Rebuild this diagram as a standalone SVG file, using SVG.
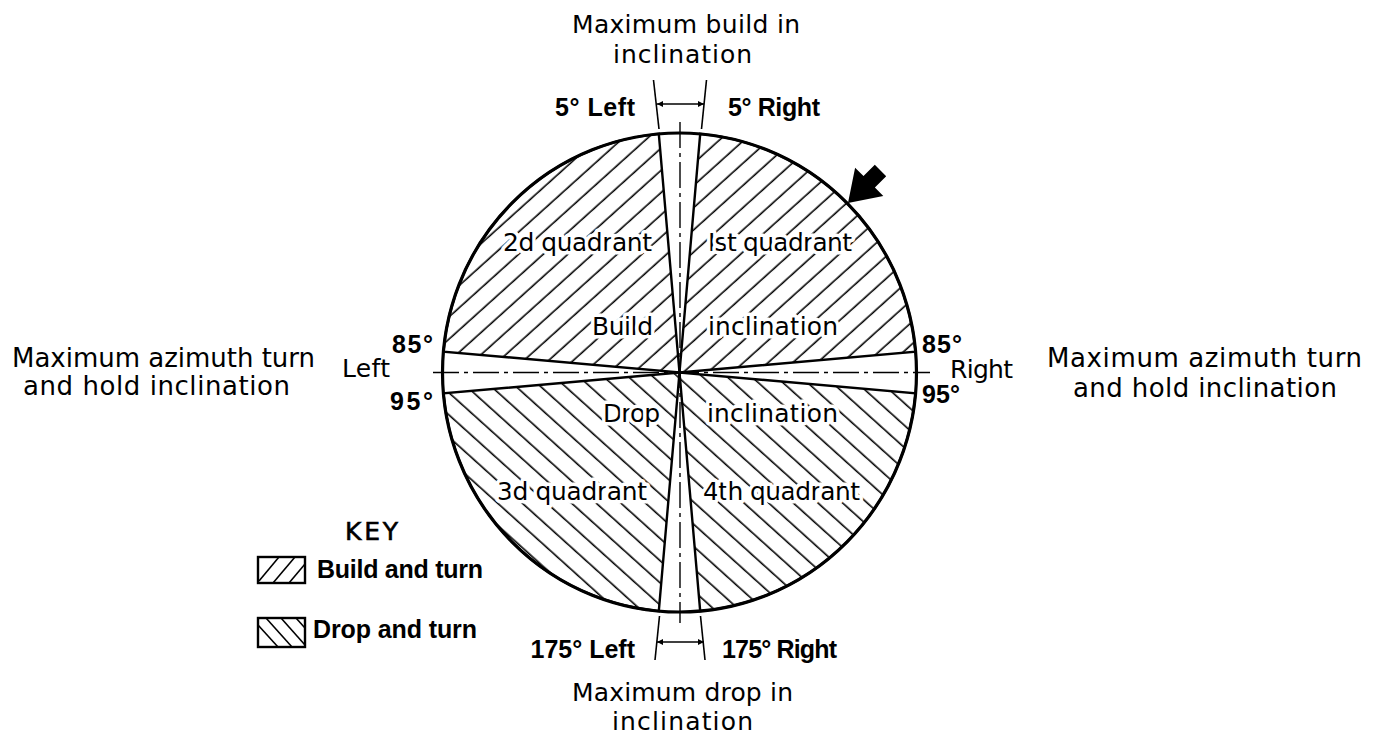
<svg xmlns="http://www.w3.org/2000/svg" width="1377" height="734" viewBox="0 0 1377 734">
<style>
.t{font-family:"DejaVu Sans","Liberation Sans",sans-serif;font-size:25px;fill:#000}
.b{font-family:"Liberation Sans",Arial,sans-serif;font-weight:bold;font-size:25px;fill:#000}
.k{paint-order:stroke;stroke:#fff;stroke-width:7px;stroke-linejoin:round}
.edge{stroke:#000;stroke-width:2.4;stroke-linejoin:miter}
.chain{stroke:#000;stroke-width:1.4;fill:none;stroke-dasharray:26 5 4 5}
.thin{stroke:#000;stroke-width:1.6;fill:none}
</style>
<defs>
<pattern id="hb" width="16.5" height="16.5" patternUnits="userSpaceOnUse" patternTransform="rotate(-42)">
<line x1="0" y1="8" x2="16.5" y2="8" stroke="#000" stroke-width="1.6"/>
</pattern>
<pattern id="hd" width="16.5" height="16.5" patternUnits="userSpaceOnUse" patternTransform="rotate(42)">
<line x1="0" y1="8" x2="16.5" y2="8" stroke="#000" stroke-width="1.6"/>
</pattern>
<marker id="ar" viewBox="0 0 10 10" refX="10" refY="5" markerWidth="8" markerHeight="6" markerUnits="userSpaceOnUse" orient="auto-start-reverse">
<path d="M0,0 L10,5 L0,10 Z" fill="#000"/>
</marker>
</defs>
<rect width="1377" height="734" fill="#fff"/>

<g id="circle">
<path id="q1" class="edge" fill="url(#hb)" d="M679.5,372.5 L915.6,351.6 A237,239.5 0 0 0 700.2,133.9 Z"/>
<path id="q2" class="edge" fill="url(#hb)" d="M679.5,372.5 L658.8,133.9 A237,239.5 0 0 0 443.4,351.6 Z"/>
<path id="q3" class="edge" fill="url(#hd)" d="M679.5,372.5 L443.4,393.4 A237,239.5 0 0 0 658.8,611.1 Z"/>
<path id="q4" class="edge" fill="url(#hd)" d="M679.5,372.5 L700.2,611.1 A237,239.5 0 0 0 915.6,393.4 Z"/>
<ellipse cx="679.5" cy="372.5" rx="237" ry="239.5" fill="none" stroke="#000" stroke-width="3.2"/>
</g>

<g id="connectors">
<line class="chain" x1="680" y1="122" x2="680" y2="623"/>
<line class="chain" x1="433" y1="372.5" x2="930" y2="372.5"/>
<line class="thin" x1="653.5" y1="80" x2="659" y2="129"/>
<line class="thin" x1="706.5" y1="80" x2="701.5" y2="129"/>
<line class="thin" x1="657" y1="104" x2="704" y2="104" marker-start="url(#ar)" marker-end="url(#ar)"/>
<line class="thin" x1="659.5" y1="616" x2="655" y2="660"/>
<line class="thin" x1="700.5" y1="616" x2="705" y2="660"/>
<line class="thin" x1="657" y1="642" x2="704" y2="642" marker-start="url(#ar)" marker-end="url(#ar)"/>
<polygon id="pointer" fill="#000" points="848,203 855.1,167.7 863.5,176.1 874.8,164.8 886.2,176.2 874.9,187.5 883.3,195.9"/>
</g>

<g id="labels-top">
<text class="t" x="572" y="33" textLength="228" lengthAdjust="spacing">Maximum build in</text>
<text class="t" x="613" y="63" textLength="139" lengthAdjust="spacing">inclination</text>
<text class="b" x="555" y="116" textLength="80" lengthAdjust="spacing">5° Left</text>
<text class="b" x="728" y="116" textLength="92" lengthAdjust="spacing">5° Right</text>
</g>

<g id="labels-left">
<text class="t" x="12" y="367" style="font-size:26px" textLength="303" lengthAdjust="spacing">Maximum azimuth turn</text>
<text class="t" x="23" y="395" style="font-size:26px" textLength="267" lengthAdjust="spacing">and hold inclination</text>
<text class="t" x="342" y="377" textLength="48" lengthAdjust="spacing">Left</text>
<text class="b" x="392" y="353" textLength="41" lengthAdjust="spacing">85°</text>
<text class="b" x="390" y="410" textLength="43" lengthAdjust="spacing">95°</text>
</g>

<g id="labels-right">
<text class="b" x="922" y="353" textLength="40" lengthAdjust="spacing">85°</text>
<text class="t" x="950" y="378" textLength="63" lengthAdjust="spacing">Right</text>
<text class="b" x="922" y="403" textLength="38" lengthAdjust="spacing">95°</text>
<text class="t" x="1047" y="367" style="font-size:26px" textLength="315" lengthAdjust="spacing">Maximum azimuth turn</text>
<text class="t" x="1073" y="397" style="font-size:26px" textLength="264" lengthAdjust="spacing">and hold inclination</text>
</g>

<g id="labels-inner">
<text class="t k" x="503" y="251" textLength="149" lengthAdjust="spacing">2d quadrant</text>
<text class="t k" x="708" y="251" textLength="144" lengthAdjust="spacing">Ist quadrant</text>
<text class="t k" x="592" y="335" textLength="61" lengthAdjust="spacing">Build</text>
<text class="t k" x="708" y="335" textLength="130" lengthAdjust="spacing">inclination</text>
<text class="t k" x="603" y="422" textLength="57" lengthAdjust="spacing">Drop</text>
<text class="t k" x="707" y="422" textLength="131" lengthAdjust="spacing">inclination</text>
<text class="t k" x="497" y="500" textLength="150" lengthAdjust="spacing">3d quadrant</text>
<text class="t k" x="703" y="500" textLength="157" lengthAdjust="spacing">4th quadrant</text>
</g>

<g id="key">
<text class="t" x="345" y="540" textLength="53" lengthAdjust="spacing" style="stroke:#000;stroke-width:0.6px">KEY</text>
<rect x="258" y="557" width="47" height="26" fill="#fff" stroke="#000" stroke-width="2.4"/>
<line class="thin" x1="259" y1="581" x2="279" y2="557"/>
<line class="thin" x1="273" y1="583" x2="295" y2="557"/>
<line class="thin" x1="289" y1="583" x2="305" y2="564"/>
<text class="b" x="317" y="578" textLength="166" lengthAdjust="spacing">Build and turn</text>
<rect x="258" y="618" width="47" height="29" fill="#fff" stroke="#000" stroke-width="2.4"/>
<line class="thin" x1="258" y1="625" x2="278" y2="647"/>
<line class="thin" x1="266" y1="618" x2="292" y2="647"/>
<line class="thin" x1="281" y1="618" x2="305" y2="645"/>
<line class="thin" x1="296" y1="618" x2="305" y2="628"/>
<text class="b" x="313" y="638" textLength="164" lengthAdjust="spacing">Drop and turn</text>
</g>

<g id="labels-bottom">
<text class="b" x="635" y="658" text-anchor="end">175° Left</text>
<text class="b" x="722" y="658" textLength="115" lengthAdjust="spacing">175° Right</text>
<text class="t" x="572" y="701" textLength="221" lengthAdjust="spacing">Maximum drop in</text>
<text class="t" x="612" y="730" textLength="141" lengthAdjust="spacing">inclination</text>
</g>
</svg>
